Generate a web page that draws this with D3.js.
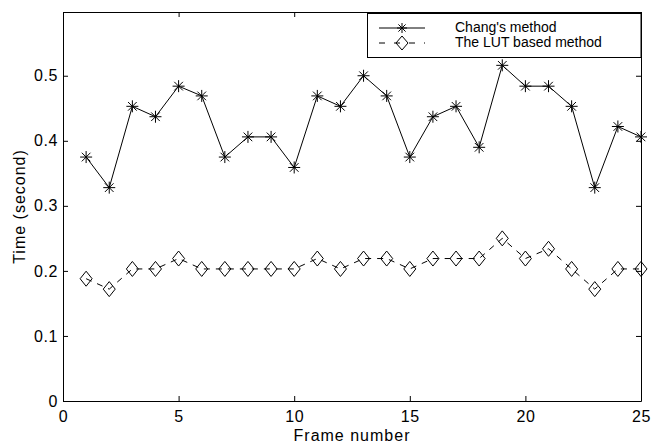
<!DOCTYPE html>
<html>
<head>
<meta charset="utf-8">
<script src="https://cdn.jsdelivr.net/npm/d3@7"></script>
<style>
  body { margin: 0; background: #fff; }
  text { font-family: "Liberation Sans", Arial, sans-serif; fill: #000; }
</style>
</head>
<body>
<main></main>
<script>
let frames = d3.range(1, 26)
let changTimes = [0.375, 0.328, 0.453, 0.437, 0.484, 0.469, 0.375, 0.406, 0.406, 0.359,
                  0.469, 0.453, 0.500, 0.469, 0.375, 0.437, 0.453, 0.390, 0.516, 0.484,
                  0.484, 0.453, 0.328, 0.422, 0.406]
let lutTimes = [0.188, 0.172, 0.203, 0.203, 0.219, 0.203, 0.203, 0.203, 0.203, 0.203,
                0.219, 0.203, 0.219, 0.219, 0.203, 0.219, 0.219, 0.219, 0.250, 0.219,
                0.234, 0.203, 0.172, 0.203, 0.203]
let xTicks = [0, 5, 10, 15, 20, 25]
let yTicks = [0, 0.1, 0.2, 0.3, 0.4, 0.5]
let legendLabels = ["Chang's method", "The LUT based method"]

let width = 652, height = 446
let plotLeft = 63, plotRight = 641, plotTop = 12, plotBottom = 401

let svg = d3.select('main')
    .append('svg')
    .attr('width', width)
    .attr('height', height)

let x = d3.scaleLinear().domain([0, 25]).range([plotLeft, plotRight])
let y = d3.scaleLinear().domain([0, 0.598]).range([plotBottom, plotTop])

// axes box with inward ticks on all sides
svg.append('g')
    .attr('transform', `translate(0,${plotBottom})`)
    .call(d3.axisBottom(x).tickValues(xTicks).tickSizeInner(-5).tickSizeOuter(0).tickPadding(10).tickFormat(d3.format('d')))
svg.append('g')
    .attr('transform', `translate(0,${plotTop})`)
    .call(d3.axisTop(x).tickValues(xTicks).tickSizeInner(-5).tickSizeOuter(0).tickFormat(''))
svg.append('g')
    .attr('transform', `translate(${plotLeft},0)`)
    .call(d3.axisLeft(y).tickValues(yTicks).tickSizeInner(-5).tickSizeOuter(0).tickPadding(5)
        .tickFormat(d => d === 0 ? '0' : d3.format('.1f')(d)))
svg.append('g')
    .attr('transform', `translate(${plotRight},0)`)
    .call(d3.axisRight(y).tickValues(yTicks).tickSizeInner(-5).tickSizeOuter(0).tickFormat(''))

svg.selectAll('.domain').attr('stroke', '#000').attr('stroke-width', 1)
svg.selectAll('.tick line').attr('stroke', '#000')
svg.selectAll('.tick text')
    .style('font-size', '16px')
    .style('letter-spacing', '0.6px')
    .style('font-family', '"Liberation Sans", Arial, sans-serif')

svg.append('text')
    .attr('x', (plotLeft + plotRight) / 2)
    .attr('y', 441)
    .attr('text-anchor', 'middle')
    .style('font-size', '16px')
    .style('letter-spacing', '1px')
    .text('Frame number')

svg.append('text')
    .attr('transform', `translate(25,${(plotTop + plotBottom) / 2}) rotate(-90)`)
    .attr('text-anchor', 'middle')
    .style('font-size', '16px')
    .style('letter-spacing', '1px')
    .text('Time (second)')

let line = d3.line().x((d, i) => x(frames[i])).y(d => y(d))

function asterisk(g, cx, cy, r) {
    let d = r * 0.72
    g.append('path')
        .attr('d', `M${cx - r},${cy}H${cx + r}M${cx},${cy - r}V${cy + r}` +
                   `M${cx - d},${cy - d}L${cx + d},${cy + d}M${cx - d},${cy + d}L${cx + d},${cy - d}`)
        .attr('stroke', '#000')
        .attr('stroke-width', 1)
        .attr('fill', 'none')
}

function diamond(g, cx, cy, rx, ry) {
    g.append('path')
        .attr('d', `M${cx},${cy - ry}L${cx + rx},${cy}L${cx},${cy + ry}L${cx - rx},${cy}Z`)
        .attr('stroke', '#000')
        .attr('stroke-width', 1)
        .attr('fill', 'none')
}

// Chang's method
svg.append('path')
    .datum(changTimes)
    .attr('d', line)
    .attr('fill', 'none')
    .attr('stroke', '#000')
    .attr('stroke-width', 1)
let changMarks = svg.append('g')
changTimes.forEach((v, i) => asterisk(changMarks, x(frames[i]), y(v), 6))

// LUT based method
svg.append('path')
    .datum(lutTimes)
    .attr('d', line)
    .attr('fill', 'none')
    .attr('stroke', '#000')
    .attr('stroke-width', 1)
    .attr('stroke-dasharray', '6,6')
let lutMarks = svg.append('g')
lutTimes.forEach((v, i) => diamond(lutMarks, x(frames[i]), y(v), 6, 7.5))

// legend
let legend = svg.append('g')
legend.append('rect')
    .attr('x', 367.5)
    .attr('y', 13.5)
    .attr('width', plotRight - 367.5)
    .attr('height', 44)
    .attr('fill', '#fff')
    .attr('stroke', '#000')
legend.append('line')
    .attr('x1', 379).attr('x2', 425).attr('y1', 28).attr('y2', 28)
    .attr('stroke', '#000')
asterisk(legend, 402, 28, 5)
legend.append('line')
    .attr('x1', 379).attr('x2', 425).attr('y1', 43).attr('y2', 43)
    .attr('stroke', '#000')
    .attr('stroke-dasharray', '6,9')
diamond(legend, 402, 43, 6, 7)
legendLabels.forEach((t, i) => {
    legend.append('text')
        .attr('x', 455)
        .attr('y', 27 + i * 15)
        .attr('dy', '0.35em')
        .style('font-size', '14px')
        .text(t)
})
</script>
</body>
</html>
